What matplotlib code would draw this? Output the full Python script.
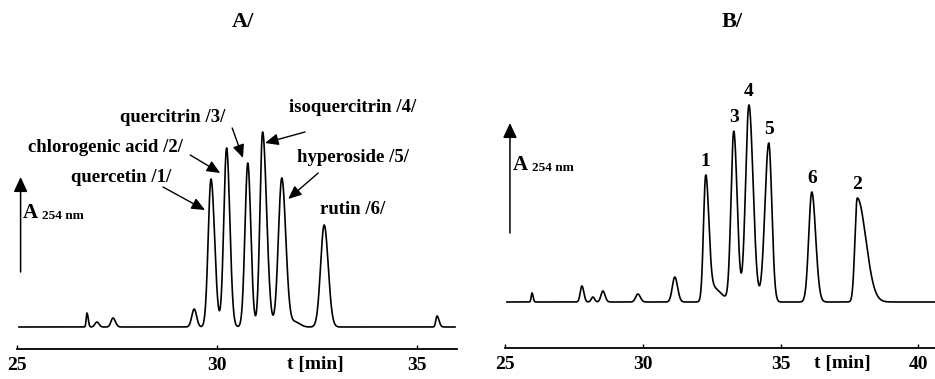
import numpy as np
import matplotlib
matplotlib.use("Agg")
import matplotlib.pyplot as plt

plt.rcParams['font.family'] = ['Liberation Serif', 'DejaVu Serif']
plt.rcParams['font.weight'] = 'bold'

# ---- panel A: standard mixture (retention time, height, left/right width) ----
a_rt = [26.75, 27.0, 27.4, 29.43, 29.85, 30.24, 30.77, 31.14, 31.62, 31.95, 32.68, 35.50]
a_h = [14, 5, 9, 18, 148, 179, 164, 195, 149, 5, 102, 11]
a_wl = [0.02, 0.05, 0.05, 0.06, 0.07, 0.07, 0.07, 0.066, 0.085, 0.10, 0.09, 0.03]
a_wr = [0.03, 0.05, 0.06, 0.06, 0.09, 0.08, 0.075, 0.10, 0.10, 0.12, 0.10, 0.05]

# ---- panel B: plant extract ----
b_rt = [25.98, 27.79, 28.19, 28.55, 29.82, 31.16, 32.28, 32.45, 33.30, 33.85, 34.57, 36.13, 37.78]
b_h = [9, 16, 5, 11, 8, 25, 123, 16, 170, 197, 159, 110, 104]
b_wl = [0.03, 0.06, 0.06, 0.07, 0.08, 0.09, 0.08, 0.10, 0.10, 0.122, 0.14, 0.11, 0.085]
b_wr = [0.04, 0.07, 0.06, 0.08, 0.09, 0.10, 0.107, 0.35, 0.122, 0.15, 0.11, 0.14, 0.31]

a_names = ['quercetin /1/', 'chlorogenic acid /2/', 'quercitrin /3/',
           'isoquercitrin /4/', 'hyperoside /5/', 'rutin /6/']
b_numbers = ['1', '3', '4', '5', '6', '2']
b_label_peaks = [6, 8, 9, 10, 11, 12]


def trace(t, rt, h, wl, wr):
    y = np.zeros_like(t)
    for r, hh, l, w in zip(rt, h, wl, wr):
        s = np.where(t < r, l, w)
        y += hh * np.exp(-0.5 * ((t - r) / s) ** 2)
    return y


def style_axis(ax, xlim, ylim, ticks, tlabel_x):
    ax.set_xlim(*xlim)
    ax.set_ylim(*ylim)
    for s in ['top', 'right', 'left']:
        ax.spines[s].set_visible(False)
    ax.spines['bottom'].set_linewidth(1.3)
    ax.set_yticks([])
    ax.set_xticks(ticks)
    ax.tick_params(axis='x', direction='in', length=3, width=1, pad=6, labelsize=14)
    for lab in ax.get_xticklabels():
        lab.set_fontweight('bold')
    ax.annotate('t [min]', xy=(tlabel_x, ylim[0]), xytext=(0, -11.5),
                textcoords='offset points', ha='center', va='center', fontsize=14)


def y_arrow(ax, x, y0, y1):
    ax.annotate('', xy=(x, y1), xytext=(x, y0),
                arrowprops=dict(arrowstyle='-|>,head_length=0.9,head_width=0.42',
                                color='black', lw=1.1, shrinkA=0, shrinkB=0))


fig = plt.figure(figsize=(9.35, 3.79), dpi=100)

# panel A
axA = fig.add_axes([17 / 935, 30 / 379, 440 / 935, 259 / 379])
tA = np.linspace(25.05, 35.95, 3000)
axA.plot(tA, trace(tA, a_rt, a_h, a_wl, a_wr), color='black', lw=1.2)
style_axis(axA, (25, 36), (-22, 237), [25, 30, 35], 32.45)
y_arrow(axA, 25.09, 55, 150)
axA.text(25.15, 114, 'A', fontsize=15, va='center')
axA.text(25.63, 111, '254 nm', fontsize=9.5, va='center')

a_text = [(27.6, 150), (27.2, 179), (28.9, 209), (33.4, 220), (33.4, 169), (33.4, 117)]
a_arrows = [((28.65, 140), (29.7, 117)), ((29.33, 172), (30.08, 154)),
            ((30.38, 199), (30.65, 169)), ((32.2, 195), (31.2, 184)),
            ((32.53, 154), (31.78, 128))]
for name, (x, y) in zip(a_names, a_text):
    axA.text(x, y, name, ha='center', va='center', fontsize=13.5)
for tail, tip in a_arrows:
    axA.annotate('', xy=tip, xytext=tail,
                 arrowprops=dict(arrowstyle='-|>,head_length=0.8,head_width=0.35',
                                 color='black', lw=1.0, shrinkA=0, shrinkB=0))

# panel B
axB = fig.add_axes([505 / 935, 31 / 379, 430 / 935, 288 / 379])
tB = np.linspace(25.07, 40.6, 3000)
axB.plot(tB, trace(tB, b_rt, b_h, b_wl, b_wr), color='black', lw=1.2)
style_axis(axB, (25, 40.6), (-46, 242), [25, 30, 35, 40], 37.25)
y_arrow(axB, 25.18, 69, 179)
axB.text(25.29, 137, 'A', fontsize=15, va='center')
axB.text(25.98, 134, '254 nm', fontsize=9.5, va='center')
yB = trace(np.array(b_rt), b_rt, b_h, b_wl, b_wr)
for num, i in zip(b_numbers, b_label_peaks):
    axB.text(b_rt[i], yB[i] + 5, num, ha='center', va='bottom', fontsize=14)

fig.text(243 / 935, 1 - 22 / 379, 'A/', ha='center', va='center', fontsize=16)
fig.text(732 / 935, 1 - 22 / 379, 'B/', ha='center', va='center', fontsize=16)

fig.savefig('out.png', dpi=100)
